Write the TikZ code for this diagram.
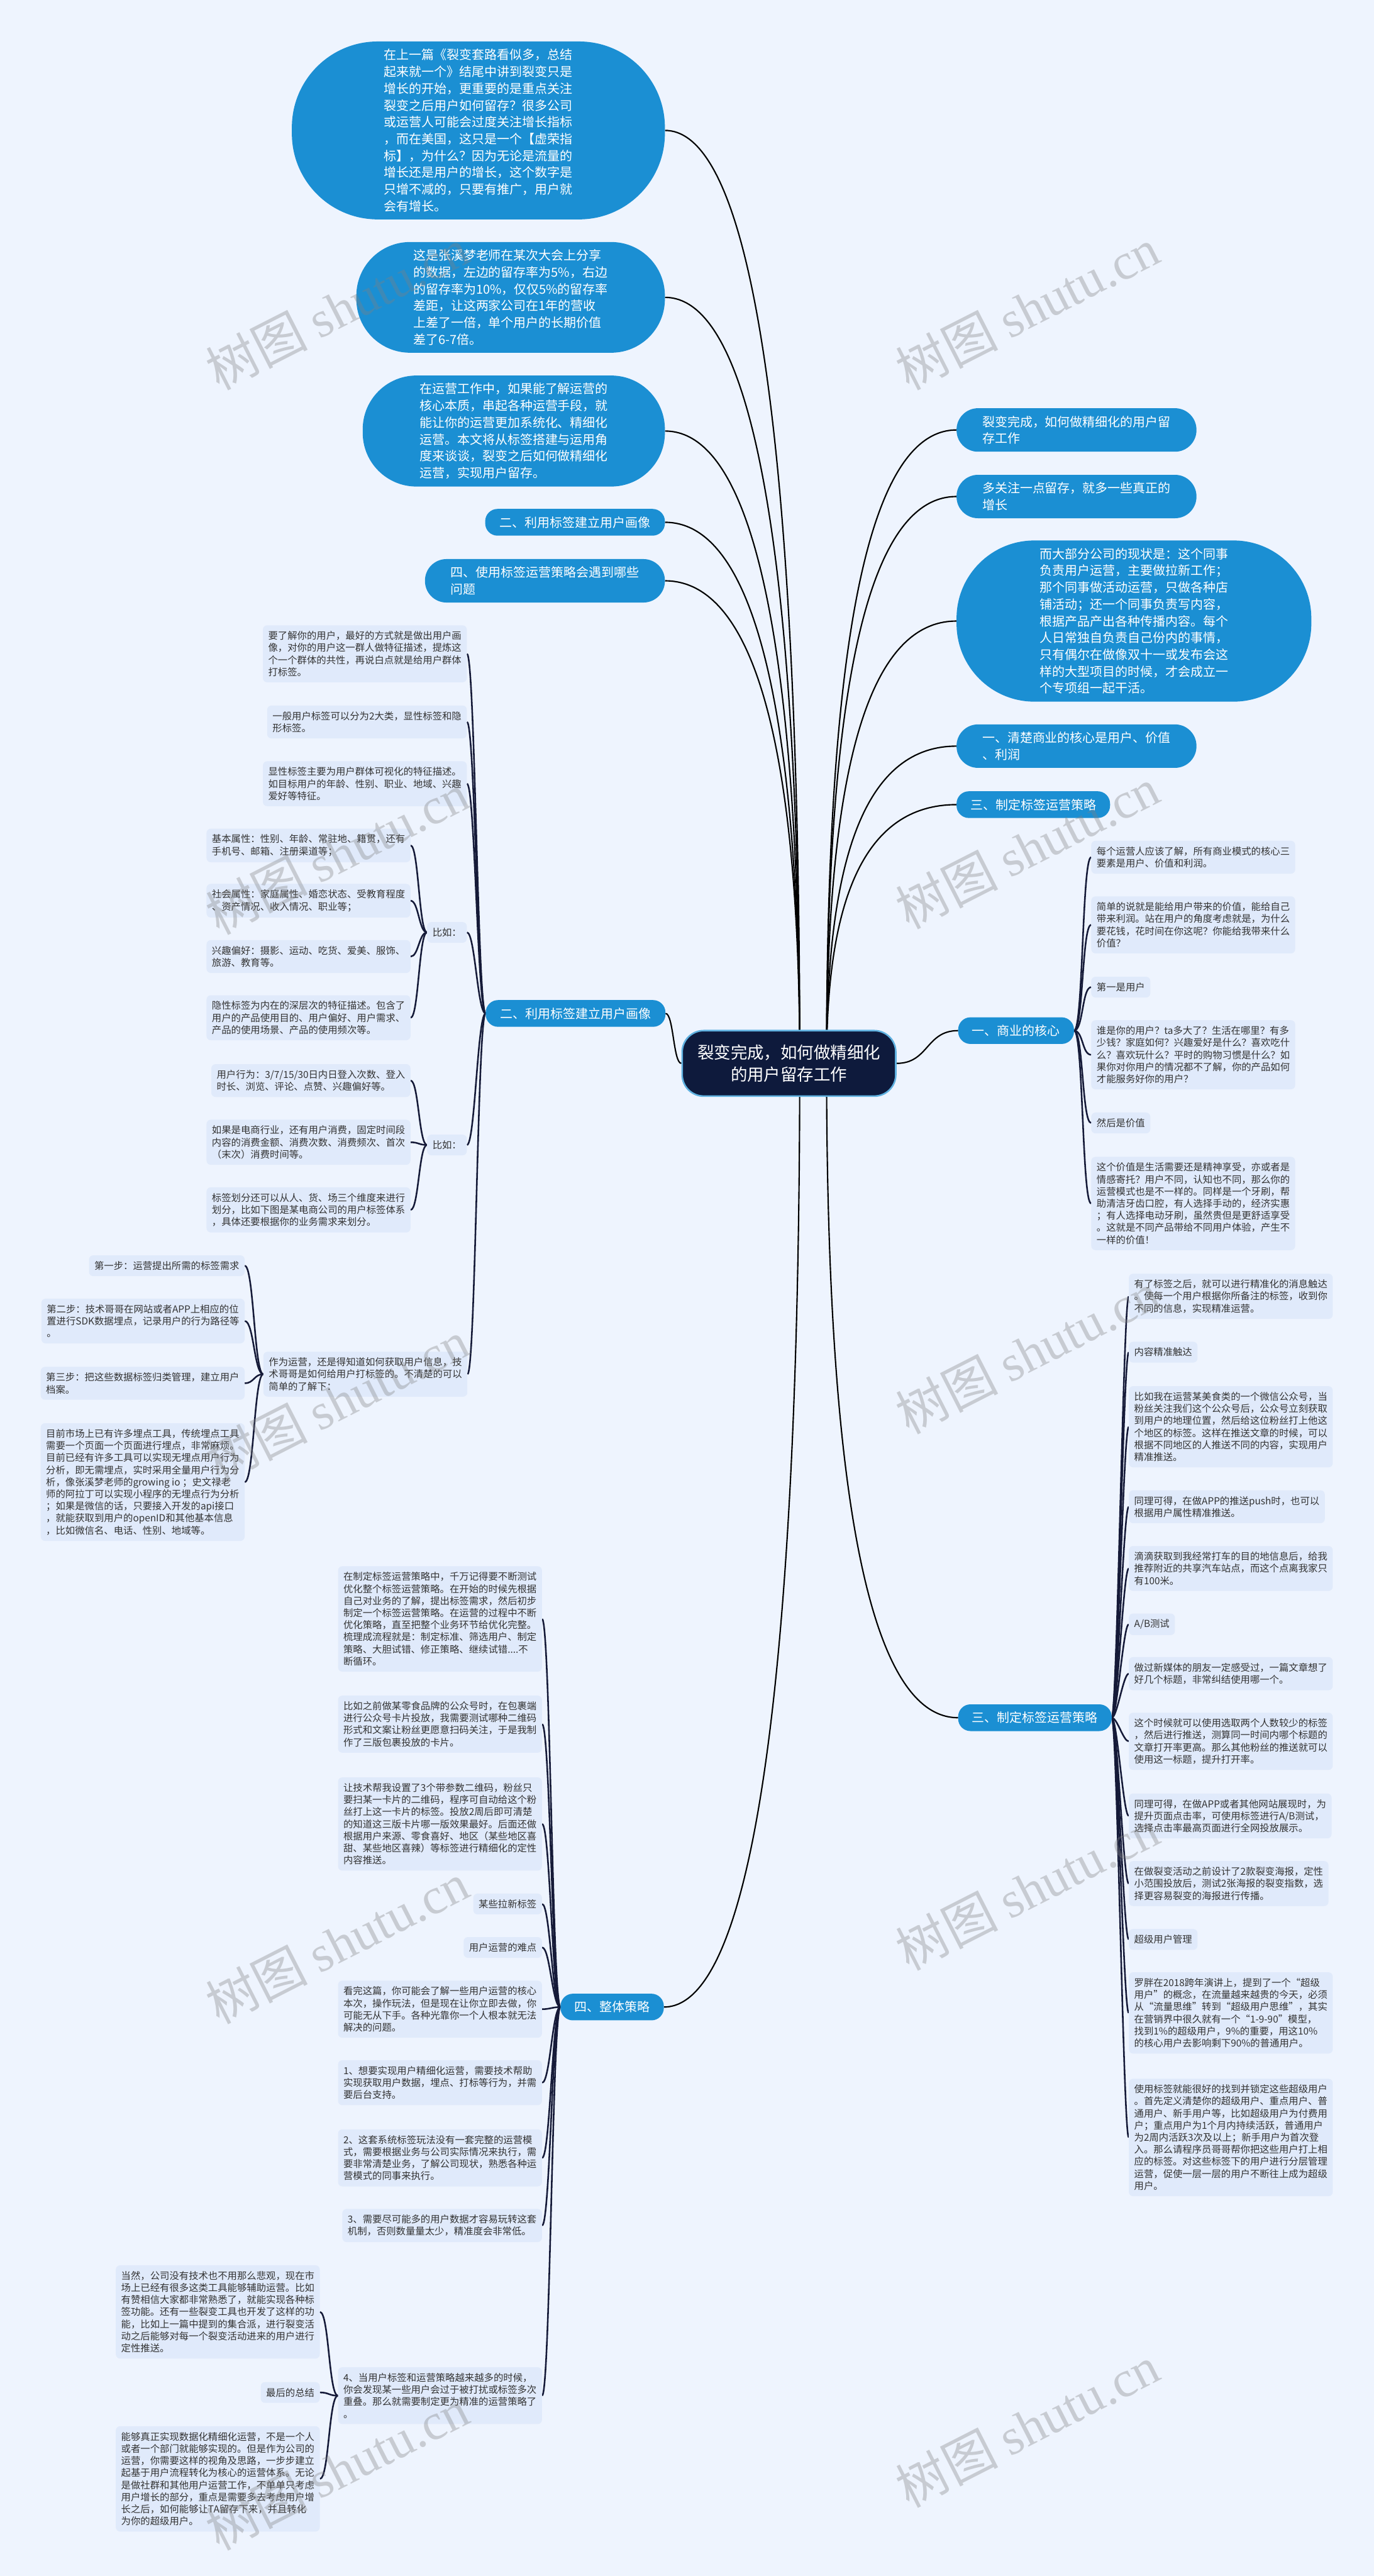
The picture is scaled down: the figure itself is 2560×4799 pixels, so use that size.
\documentclass[tikz,border=0pt]{standalone}
\usepackage{fontspec}
\setmainfont{Noto Sans CJK SC}
\newfontfamily\wmlatin{Liberation Serif}
\definecolor{bgc}{HTML}{EEF4FE}
\definecolor{bluec}{HTML}{1B8FD3}
\definecolor{leafc}{HTML}{E0EAFB}
\definecolor{leaft}{HTML}{333333}
\definecolor{navy}{HTML}{0E1A3C}
\definecolor{linec}{HTML}{151A38}
\pgfdeclarelayer{back}\pgfdeclarelayer{lines}\pgfdeclarelayer{front}
\pgfsetlayers{back,lines,main,front}
\begin{document}
\begin{tikzpicture}[x=1pt,y=1pt,
  bluenode/.style 2 args={rectangle, rounded corners=#1, inner xsep=#2, fill=bluec, text=white, font=\fontsize{23.4}{31.3}\selectfont, align=left, inner ysep=14pt},
  leaf/.style={rectangle, rounded corners=8pt, fill=leafc, text=leaft, font=\fontsize{18}{22.5}\selectfont, align=left, inner xsep=10pt, inner ysep=11pt},
  centernode/.style={rectangle, rounded corners=40pt, fill=navy, draw=bluec!70, line width=3pt, text=white, font=\fontsize{31}{41}\selectfont, align=center, minimum width=398pt, minimum height=122pt},
  conn/.style={draw=black, line width=2.5pt},
  lconn/.style={draw=linec, line width=3pt},
  wm/.style={text=gray, opacity=0.35, font=\fontsize{95}{95}\selectfont, rotate=27}
]
\begin{pgfonlayer}{back}
\fill[bgc] (0,0) rectangle (2560,-4799);
\end{pgfonlayer}
\useasboundingbox (0,0) rectangle (2560,-4799);

% center
\node[centernode] (c) at (1470,-1981) {裂变完成，如何做精细化\\的用户留存工作};
\coordinate (cl) at (1490,-1981);
\coordinate (cr) at (1540,-1981);

% left blue
\node[bluenode={160pt}{172pt}, anchor=east] (b1) at (1239,-243) {在上一篇《裂变套路看似多，总结\\起来就一个》结尾中讲到裂变只是\\增长的开始，更重要的是重点关注\\裂变之后用户如何留存？很多公司\\或运营人可能会过度关注增长指标\\，而在美国，这只是一个【虚荣指\\标】，为什么？因为无论是流量的\\增长还是用户的增长，这个数字是\\只增不减的，只要有推广，用户就\\会有增长。};
\node[bluenode={100pt}{106pt}, anchor=east] (b2) at (1239,-554) {这是张溪梦老师在某次大会上分享\\的数据，左边的留存率为5\%，右边\\的留存率为10\%，仅仅5\%的留存率\\差距，让这两家公司在1年的营收\\上差了一倍，单个用户的长期价值\\差了6-7倍。};
\node[bluenode={100pt}{106pt}, anchor=east] (b3) at (1239,-803) {在运营工作中，如果能了解运营的\\核心本质，串起各种运营手段，就\\能让你的运营更加系统化、精细化\\运营。本文将从标签搭建与运用角\\度来谈谈，裂变之后如何做精细化\\运营，实现用户留存。};
\node[bluenode={23pt}{27pt}, anchor=east] (l4) at (1239,-973) {二、利用标签建立用户画像};
\node[bluenode={40pt}{48pt}, anchor=east] (l5) at (1239,-1082) {四、使用标签运营策略会遇到哪些\\问题};
\node[bluenode={23pt}{27pt}, anchor=east] (l6) at (1240,-1888) {二、利用标签建立用户画像};
\node[bluenode={23pt}{26pt}, anchor=east] (l7) at (1237,-3739) {四、整体策略};

% right blue
\node[bluenode={40pt}{48pt}, anchor=west] (r1) at (1782,-801) {裂变完成，如何做精细化的用户留\\存工作};
\node[bluenode={40pt}{48pt}, anchor=west] (r2) at (1782,-925) {多关注一点留存，就多一些真正的\\增长};
\node[bluenode={145pt}{155pt}, anchor=west] (r3) at (1782,-1157) {而大部分公司的现状是：这个同事\\负责用户运营，主要做拉新工作；\\那个同事做活动运营，只做各种店\\铺活动；还一个同事负责写内容，\\根据产品产出各种传播内容。每个\\人日常独自负责自己份内的事情，\\只有偶尔在做像双十一或发布会这\\样的大型项目的时候，才会成立一\\个专项组一起干活。};
\node[bluenode={40pt}{48pt}, anchor=west] (r4) at (1782,-1390) {一、清楚商业的核心是用户、价值\\、利润};
\node[bluenode={23pt}{26pt}, anchor=west] (r5) at (1782,-1499) {三、制定标签运营策略};
\node[bluenode={23pt}{26pt}, anchor=west] (r6) at (1785,-1920) {一、商业的核心};
\node[bluenode={23pt}{26pt}, anchor=west] (r7) at (1785,-3200) {三、制定标签运营策略};

% right group 1
\node[leaf, anchor=west] (c1) at (2033,-1597) {每个运营人应该了解，所有商业模式的核心三\\要素是用户、价值和利润。};
\node[leaf, anchor=west] (c2) at (2033,-1723) {简单的说就是能给用户带来的价值，能给自己\\带来利润。站在用户的角度考虑就是，为什么\\要花钱，花时间在你这呢？你能给我带来什么\\价值？};
\node[leaf, anchor=west] (c3) at (2033,-1839) {第一是用户};
\node[leaf, anchor=west] (c4) at (2033,-1965) {谁是你的用户？ta多大了？生活在哪里？有多\\少钱？家庭如何？兴趣爱好是什么？喜欢吃什\\么？喜欢玩什么？平时的购物习惯是什么？如\\果你对你用户的情况都不了解，你的产品如何\\才能服务好你的用户？};
\node[leaf, anchor=west] (c5) at (2033,-2092) {然后是价值};
\node[leaf, anchor=west] (c6) at (2033,-2242) {这个价值是生活需要还是精神享受，亦或者是\\情感寄托？用户不同，认知也不同，那么你的\\运营模式也是不一样的。同样是一个牙刷，帮\\助清洁牙齿口腔，有人选择手动的，经济实惠\\；有人选择电动牙刷，虽然贵但是更舒适享受\\。这就是不同产品带给不同用户体验，产生不\\一样的价值！};

% right group 2
\node[leaf, anchor=west] (d1) at (2103,-2415) {有了标签之后，就可以进行精准化的消息触达\\。使每一个用户根据你所备注的标签，收到你\\不同的信息，实现精准运营。};
\node[leaf, anchor=west] (d2) at (2103,-2519) {内容精准触达};
\node[leaf, anchor=west] (d3) at (2103,-2658) {比如我在运营某美食类的一个微信公众号，当\\粉丝关注我们这个公众号后，公众号立刻获取\\到用户的地理位置，然后给这位粉丝打上他这\\个地区的标签。这样在推送文章的时候，可以\\根据不同地区的人推送不同的内容，实现用户\\精准推送。};
\node[leaf, anchor=west] (d4) at (2103,-2807) {同理可得，在做APP的推送push时，也可以\\根据用户属性精准推送。};
\node[leaf, anchor=west] (d5) at (2103,-2922) {滴滴获取到我经常打车的目的地信息后，给我\\推荐附近的共享汽车站点，而这个点离我家只\\有100米。};
\node[leaf, anchor=west] (d6) at (2103,-3026) {A/B测试};
\node[leaf, anchor=west] (d7) at (2103,-3118) {做过新媒体的朋友一定感受过，一篇文章想了\\好几个标题，非常纠结使用哪一个。};
\node[leaf, anchor=west] (d8) at (2103,-3244) {这个时候就可以使用选取两个人数较少的标签\\，然后进行推送，测算同一时间内哪个标题的\\文章打开率更高。那么其他粉丝的推送就可以\\使用这一标题，提升打开率。};
\node[leaf, anchor=west] (d9) at (2103,-3383) {同理可得，在做APP或者其他网站展现时，为\\提升页面点击率，可使用标签进行A/B测试，\\选择点击率最高页面进行全网投放展示。};
\node[leaf, anchor=west] (d10) at (2103,-3509) {在做裂变活动之前设计了2款裂变海报，定性\\小范围投放后，测试2张海报的裂变指数，选\\择更容易裂变的海报进行传播。};
\node[leaf, anchor=west] (d11) at (2103,-3613) {超级用户管理};
\node[leaf, anchor=west] (d12) at (2103,-3750) {罗胖在2018跨年演讲上，提到了一个“超级\\用户”的概念，在流量越来越贵的今天，必须\\从“流量思维”转到“超级用户思维”，其实\\在营销界中很久就有一个“1-9-90”模型，\\找到1\%的超级用户，9\%的重要，用这10\%\\的核心用户去影响剩下90\%的普通用户。};
\node[leaf, anchor=west] (d13) at (2103,-3982) {使用标签就能很好的找到并锁定这些超级用户\\。首先定义清楚你的超级用户、重点用户、普\\通用户、新手用户等，比如超级用户为付费用\\户；重点用户为1个月内持续活跃，普通用户\\为2周内活跃3次及以上；新手用户为首次登\\入。那么请程序员哥哥帮你把这些用户打上相\\应的标签。对这些标签下的用户进行分层管理\\运营，促使一层一层的用户不断往上成为超级\\用户。};

% left group l6
\node[leaf, anchor=east] (e1) at (870,-1218) {要了解你的用户，最好的方式就是做出用户画\\像，对你的用户这一群人做特征描述，提炼这\\个一个群体的共性，再说白点就是给用户群体\\打标签。};
\node[leaf, anchor=east] (e2) at (870,-1345) {一般用户标签可以分为2大类，显性标签和隐\\形标签。};
\node[leaf, anchor=east] (e3) at (870,-1460) {显性标签主要为用户群体可视化的特征描述。\\如目标用户的年龄、性别、职业、地域、兴趣\\爱好等特征。};
\node[leaf, anchor=east] (e4) at (870,-1737) {比如：};
\node[leaf, anchor=east] (e5) at (870,-2133) {比如：};
\node[leaf, anchor=east] (e6) at (871,-2560) {作为运营，还是得知道如何获取用户信息，技\\术哥哥是如何给用户打标签的。不清楚的可以\\简单的了解下：};

\node[leaf, anchor=east] (f1) at (765,-1575) {基本属性：性别、年龄、常驻地、籍贯，还有\\手机号、邮箱、注册渠道等；};
\node[leaf, anchor=east] (f2) at (765,-1678) {社会属性：家庭属性、婚恋状态、受教育程度\\、资产情况、收入情况、职业等；};
\node[leaf, anchor=east] (f3) at (765,-1782) {兴趣偏好：摄影、运动、吃货、爱美、服饰、\\旅游、教育等。};
\node[leaf, anchor=east] (f4) at (765,-1896) {隐性标签为内在的深层次的特征描述。包含了\\用户的产品使用目的、用户偏好、用户需求、\\产品的使用场景、产品的使用频次等。};

\node[leaf, anchor=east] (g1) at (765,-2013) {用户行为：3/7/15/30日内日登入次数、登入\\时长、浏览、评论、点赞、兴趣偏好等。};
\node[leaf, anchor=east] (g2) at (765,-2128) {如果是电商行业，还有用户消费，固定时间段\\内容的消费金额、消费次数、消费频次、首次\\（末次）消费时间等。};
\node[leaf, anchor=east] (g3) at (765,-2254) {标签划分还可以从人、货、场三个维度来进行\\划分，比如下图是某电商公司的用户标签体系\\，具体还要根据你的业务需求来划分。};

\node[leaf, anchor=east] (h1) at (456,-2358) {第一步：运营提出所需的标签需求};
\node[leaf, anchor=east] (h2) at (456,-2461) {第二步：技术哥哥在网站或者APP上相应的位\\置进行SDK数据埋点，记录用户的行为路径等\\。};
\node[leaf, anchor=east] (h3) at (456,-2577) {第三步：把这些数据标签归类管理，建立用户\\档案。};
\node[leaf, anchor=east] (h4) at (456,-2761) {目前市场上已有许多埋点工具，传统埋点工具\\需要一个页面一个页面进行埋点，非常麻烦。\\目前已经有许多工具可以实现无埋点用户行为\\分析，即无需埋点，实时采用全量用户行为分\\析，像张溪梦老师的growing io ；史文禄老\\师的阿拉丁可以实现小程序的无埋点行为分析\\；如果是微信的话，只要接入开发的api接口\\，就能获取到用户的openID和其他基本信息\\，比如微信名、电话、性别、地域等。};

% left group l7
\node[leaf, anchor=east] (i1) at (1010,-3016) {在制定标签运营策略中，千万记得要不断测试\\优化整个标签运营策略。在开始的时候先根据\\自己对业务的了解，提出标签需求，然后初步\\制定一个标签运营策略。在运营的过程中不断\\优化策略，直至把整个业务环节给优化完整。\\梳理成流程就是：制定标准、筛选用户、制定\\策略、大胆试错、修正策略、继续试错....不\\断循环。};
\node[leaf, anchor=east] (i2) at (1010,-3212) {比如之前做某零食品牌的公众号时，在包裹端\\进行公众号卡片投放，我需要测试哪种二维码\\形式和文案让粉丝更愿意扫码关注，于是我制\\作了三版包裹投放的卡片。};
\node[leaf, anchor=east] (i3) at (1010,-3398) {让技术帮我设置了3个带参数二维码，粉丝只\\要扫某一卡片的二维码，程序可自动给这个粉\\丝打上这一卡片的标签。投放2周后即可清楚\\的知道这三版卡片哪一版效果最好。后面还做\\根据用户来源、零食喜好、地区（某些地区喜\\甜、某些地区喜辣）等标签进行精细化的定性\\内容推送。};
\node[leaf, anchor=east] (i4) at (1010,-3547) {某些拉新标签};
\node[leaf, anchor=east] (i5) at (1010,-3628) {用户运营的难点};
\node[leaf, anchor=east] (i6) at (1010,-3743) {看完这篇，你可能会了解一些用户运营的核心\\本次，操作玩法，但是现在让你立即去做，你\\可能无从下手。各种光靠你一个人根本就无法\\解决的问题。};
\node[leaf, anchor=east] (i7) at (1010,-3880) {1、想要实现用户精细化运营，需要技术帮助\\实现获取用户数据，埋点、打标等行为，并需\\要后台支持。};
\node[leaf, anchor=east] (i8) at (1010,-4020) {2、这套系统标签玩法没有一套完整的运营模\\式，需要根据业务与公司实际情况来执行，需\\要非常清楚业务，了解公司现状，熟悉各种运\\营模式的同事来执行。};
\node[leaf, anchor=east] (i9) at (1010,-4146) {3、需要尽可能多的用户数据才容易玩转这套\\机制，否则数量量太少，精准度会非常低。};
\node[leaf, anchor=east] (i10) at (1010,-4463) {4、当用户标签和运营策略越来越多的时候，\\你会发现某一些用户会过于被打扰或标签多次\\重叠。那么就需要制定更为精准的运营策略了\\。};

\node[leaf, anchor=east] (j1) at (596,-4307) {当然，公司没有技术也不用那么悲观，现在市\\场上已经有很多这类工具能够辅助运营。比如\\有赞相信大家都非常熟悉了，就能实现各种标\\签功能。还有一些裂变工具也开发了这样的功\\能，比如上一篇中提到的集合派，进行裂变活\\动之后能够对每一个裂变活动进来的用户进行\\定性推送。};
\node[leaf, anchor=east] (j2) at (596,-4457) {最后的总结};
\node[leaf, anchor=east] (j3) at (596,-4618) {能够真正实现数据化精细化运营，不是一个人\\或者一个部门就能够实现的。但是作为公司的\\运营，你需要这样的视角及思路，一步步建立\\起基于用户流程转化为核心的运营体系。无论\\是做社群和其他用户运营工作，不单单只考虑\\用户增长的部分，重点是需要多去考虑用户增\\长之后，如何能够让TA留存下来，并且转化\\为你的超级用户。};

\begin{pgfonlayer}{lines}
% main connectors
\draw[conn] (cl) .. controls +(0,870) and +(200,0) .. (b1.east);
\draw[conn] (cl) .. controls +(0,710) and +(200,0) .. (b2.east);
\draw[conn] (cl) .. controls +(0,590) and +(200,0) .. (b3.east);
\draw[conn] (cl) .. controls +(0,500) and +(200,0) .. (l4.east);
\draw[conn] (cl) .. controls +(0,450) and +(200,0) .. (l5.east);
\draw[conn] (c.west) .. controls +(-15,0) and +(15,0) .. (l6.east);
\draw[conn] (cl) .. controls +(0,-880) and +(200,0) .. (l7.east);
\draw[conn] (cr) .. controls +(0,590) and +(-200,0) .. (r1.west);
\draw[conn] (cr) .. controls +(0,530) and +(-200,0) .. (r2.west);
\draw[conn] (cr) .. controls +(0,410) and +(-200,0) .. (r3.west);
\draw[conn] (cr) .. controls +(0,300) and +(-200,0) .. (r4.west);
\draw[conn] (cr) .. controls +(0,240) and +(-200,0) .. (r5.west);
\draw[conn] (c.east) .. controls +(60,0) and +(-60,0) .. (r6.west);
\draw[conn] (cr) .. controls +(0,-610) and +(-200,0) .. (r7.west);
% leaf brackets
\foreach \n in {c1,c2,c3,c4,c5,c6}
  \draw[lconn] (r6.east) .. controls +(17,0) and +(-17,0) .. (\n.west);
\foreach \n in {d1,d2,d3,d4,d5,d6,d7,d8,d9,d10,d11,d12,d13}
  \draw[lconn] (r7.east) .. controls +(10,0) and +(-10,0) .. (\n.west);
\foreach \n in {e1,e2,e3,e4,e5,e6}
  \draw[lconn] (l6.west) .. controls +(-15,0) and +(15,0) .. (\n.east);
\foreach \n in {f1,f2,f3,f4}
  \draw[lconn] (e4.west) .. controls +(-15,0) and +(15,0) .. (\n.east);
\foreach \n in {g1,g2,g3}
  \draw[lconn] (e5.west) .. controls +(-15,0) and +(15,0) .. (\n.east);
\foreach \n in {h1,h2,h3,h4}
  \draw[lconn] (e6.west) .. controls +(-17,0) and +(17,0) .. (\n.east);
\foreach \n in {i1,i2,i3,i4,i5,i6,i7,i8,i9,i10}
  \draw[lconn] (l7.west) .. controls +(-15,0) and +(15,0) .. (\n.east);
\foreach \n in {j1,j2,j3}
  \draw[lconn] (i10.west) .. controls +(-17,0) and +(17,0) .. (\n.east);
\end{pgfonlayer}

\begin{pgfonlayer}{front}
\node[wm] (w1) at (628,-575) {树图 {\wmlatin shutu.cn}};
\node[wm] (w2) at (1914,-575) {树图 {\wmlatin shutu.cn}};
\node[wm] (w3) at (628,-1590) {树图 {\wmlatin shutu.cn}};
\node[wm] (w4) at (1914,-1580) {树图 {\wmlatin shutu.cn}};
\node[wm] (w5) at (628,-2610) {树图 {\wmlatin shutu.cn}};
\node[wm] (w6) at (1914,-2520) {树图 {\wmlatin shutu.cn}};
\node[wm] (w7) at (628,-3620) {树图 {\wmlatin shutu.cn}};
\node[wm] (w8) at (1914,-3520) {树图 {\wmlatin shutu.cn}};
\node[wm] (w9) at (628,-4600) {树图 {\wmlatin shutu.cn}};
\node[wm] (w10) at (1914,-4520) {树图 {\wmlatin shutu.cn}};
\end{pgfonlayer}
\end{tikzpicture}
\end{document}
